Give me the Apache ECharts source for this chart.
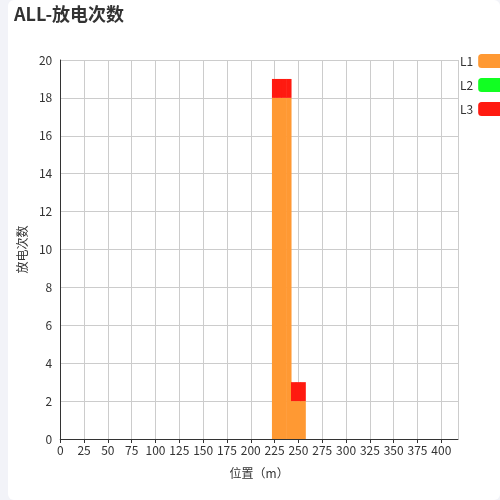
<!DOCTYPE html>
<html>
<head>
<meta charset="utf-8">
<script src="https://cdn.jsdelivr.net/npm/echarts@6/dist/echarts.min.js"></script>
<style>
html,body{margin:0;padding:0;width:500px;height:500px;background:#f2f3f8;overflow:hidden;}
#box{position:absolute;left:8px;top:0;width:492px;height:500px;background:#fff;border-radius:6px;}
#chart{width:492px;height:500px;}
</style>
</head>
<body>
<div id="box"><div id="chart"></div></div>
<script>
const titleText = 'ALL-放电次数';
const seriesNames = ['L1', 'L2', 'L3'];
const seriesColors = ['#ff9933', '#11ff22', '#ff1a10'];
const positions = [225, 230, 235, 240, 245, 250, 255];
const l1Values = [18, 18, 18, 18, 2, 2, 2];
const l2Values = [0, 0, 0, 0, 0, 0, 0];
const l3Values = [1, 1, 1, 1, 1, 1, 1];
const xMax = 417.5;
const yMax = 20;

// [count, position] so the count is the stacked dimension
const pairs = vals => vals.map((v, i) => [v, positions[i]]);
const allData = [pairs(l1Values), pairs(l2Values), pairs(l3Values)];

const chart = echarts.init(document.getElementById('chart'));
const font = '"Noto Sans CJK SC", "Noto Sans", sans-serif';
chart.setOption({
  animation: false,
  textStyle: { fontFamily: font },
  title: {
    text: titleText, left: 1, top: 0,
    textStyle: { fontSize: 18, fontWeight: 'bold', color: '#333', fontFamily: font }
  },
  legend: {
    orient: 'vertical', left: 447, top: 49, align: 'right',
    itemWidth: 25, itemHeight: 14, itemGap: 10,
    icon: 'roundRect',
    textStyle: { fontSize: 12, color: '#333', fontFamily: font },
    data: seriesNames
  },
  grid: { left: 50, right: 42, top: 60, bottom: 61, containLabel: false },
  xAxis: {
    type: 'value', min: 0, max: xMax, interval: 25,
    name: '位置（m）', nameLocation: 'middle', nameGap: 28,
    nameTextStyle: { fontSize: 12, color: '#333', fontFamily: font },
    axisLine: { show: true, lineStyle: { color: '#333' } },
    axisTick: { show: true, length: 4, lineStyle: { color: '#333' } },
    axisLabel: { color: '#333', fontSize: 12, showMaxLabel: false, margin: 5, fontFamily: font },
    splitLine: { show: true, lineStyle: { color: '#ccc' } }
  },
  yAxis: {
    type: 'value', min: 0, max: yMax, interval: 2,
    name: '放电次数', nameLocation: 'middle', nameGap: 30,
    nameTextStyle: { fontSize: 12, color: '#333', fontFamily: font },
    axisLine: { show: true, lineStyle: { color: '#333' } },
    axisTick: { show: false },
    axisLabel: { color: '#333', fontSize: 12, margin: 8, fontFamily: font },
    splitLine: { show: true, lineStyle: { color: '#ccc' } }
  },
  series: seriesNames.map((n, i) => ({
    name: n, type: 'bar', stack: 'total',
    barWidth: 5.3, barGap: '-100%',
    encode: { x: 1, y: 0 },
    itemStyle: { color: seriesColors[i] },
    data: allData[i]
  }))
});
</script>
</body>
</html>
